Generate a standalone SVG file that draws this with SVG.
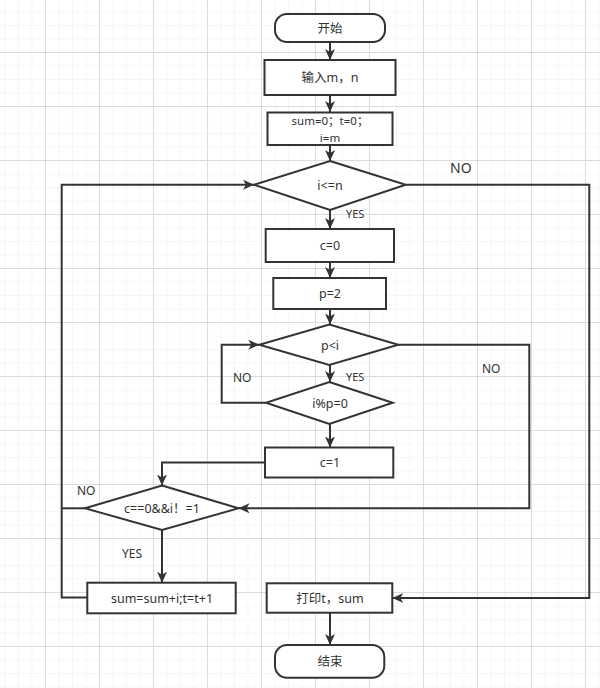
<svg xmlns="http://www.w3.org/2000/svg" width="600" height="688" viewBox="0 0 600 688">
<defs>
<pattern id="minor" patternUnits="userSpaceOnUse" x="45" y="52" width="13.5" height="13.5">
<path d="M0 0H13.5M0 0V13.5" fill="none" stroke="#eeeeee" stroke-width="1"/>
</pattern>
<pattern id="major" patternUnits="userSpaceOnUse" x="45" y="52" width="54" height="54">
<path d="M0 0.5H54M0.5 0V54" fill="none" stroke="#dcdcdc" stroke-width="1"/>
</pattern>
<marker id="arr" markerUnits="userSpaceOnUse" markerWidth="12" markerHeight="10" refX="11" refY="5" orient="auto">
<path d="M0 0L11 5L0 10L3 5Z" fill="#333"/>
</marker>
<style>
.n{fill:#fff;stroke:#333;stroke-width:2}
.t{font-family:"Noto Sans","Noto Sans CJK SC",sans-serif;font-size:12.5px;fill:#333;text-anchor:middle;dominant-baseline:central}
.c{fill:none;stroke:#333;stroke-width:2}
.l{font-family:"Noto Sans","Noto Sans CJK SC",sans-serif;font-size:12px;fill:#333}
</style>
</defs>
<rect width="600" height="688" fill="#fff"/>
<rect width="600" height="688" fill="url(#minor)"/>
<rect width="600" height="688" fill="url(#major)"/>

<g id="connectors">
<path class="c" d="M330 42V60" marker-end="url(#arr)"/>
<path class="c" d="M330 95V112" marker-end="url(#arr)"/>
<path class="c" d="M330 145V161" marker-end="url(#arr)"/>
<path class="c" d="M330 210V229" marker-end="url(#arr)"/>
<path class="c" d="M330 262V278" marker-end="url(#arr)"/>
<path class="c" d="M330 309V324.5" marker-end="url(#arr)"/>
<path class="c" d="M330 365V382" marker-end="url(#arr)"/>
<path class="c" d="M330 424V447.5" marker-end="url(#arr)"/>
<path class="c" d="M265 462.5H162V485.5" marker-end="url(#arr)"/>
<path class="c" d="M398.3 344.7H529.3V508.3H238.5" marker-end="url(#arr)"/>
<path class="c" d="M266 402.7H221.7V344.7H259.3" marker-end="url(#arr)"/>
<path class="c" d="M85 508.3H61.7"/>
<path class="c" d="M87.3 597.5H61.7V184.7H254" marker-end="url(#arr)"/>
<path class="c" d="M162 530V582.7" marker-end="url(#arr)"/>
<path class="c" d="M405.7 184.7H589.3V598H392.3" marker-end="url(#arr)"/>
<path class="c" d="M330 612.7V645" marker-end="url(#arr)"/>
<text class="l" x="450" y="173" style="font-size:14px">NO</text>
<text class="l" x="346" y="218" style="font-size:11px">YES</text>
<text class="l" x="346" y="381" style="font-size:11px">YES</text>
<text class="l" x="233" y="382">NO</text>
<text class="l" x="482" y="373">NO</text>
<text class="l" x="77" y="495">NO</text>
<text class="l" x="122" y="558">YES</text>
</g>

<g id="start"><rect class="n" x="275" y="14" width="110" height="28" rx="12"/><text class="t" x="330" y="28">开始</text></g>
<g id="input"><rect class="n" x="264.5" y="60" width="131" height="35"/><text class="t" x="330" y="77.5">输入m，n</text></g>
<g id="init"><rect class="n" x="267.5" y="112.5" width="125" height="32.5"/><text class="t" x="330" y="120.5" style="font-size:11.5px">sum=0；t=0；</text><text class="t" x="330" y="137.5" style="font-size:11.5px">i=m</text></g>
<g id="cond1"><polygon class="n" points="330,161 405.7,184.7 330,210 254,184.7"/><text class="t" x="330" y="185">i&lt;=n</text></g>
<g id="c0"><rect class="n" x="265.7" y="229" width="128.3" height="33"/><text class="t" x="330" y="245.5">c=0</text></g>
<g id="p2"><rect class="n" x="273.3" y="278" width="112.7" height="31"/><text class="t" x="330" y="293.5">p=2</text></g>
<g id="cond2"><polygon class="n" points="329.3,324.5 398.3,344.7 329.3,365 259.3,344.7"/><text class="t" x="330" y="345">p&lt;i</text></g>
<g id="cond3"><polygon class="n" points="329.3,382 392.7,402.7 329.3,424 266,402.7"/><text class="t" x="330" y="403">i%p=0</text></g>
<g id="c1"><rect class="n" x="265" y="447.5" width="128.3" height="30"/><text class="t" x="330" y="462.5">c=1</text></g>
<g id="cond4"><polygon class="n" points="162,485.5 238.5,508.3 162,530 85,508.3"/><text class="t" x="162" y="508.5">c==0&amp;&amp;i！=1</text></g>
<g id="sum"><rect class="n" x="87.3" y="582.7" width="148.4" height="30.6"/><text class="t" x="162" y="598">sum=sum+i;t=t+1</text></g>
<g id="print"><rect class="n" x="266.7" y="583.3" width="125.6" height="29.4"/><text class="t" x="330" y="598">打印t，sum</text></g>
<g id="end"><rect class="n" x="275" y="645" width="109.3" height="32.7" rx="12"/><text class="t" x="330" y="661.5">结束</text></g>
</svg>
